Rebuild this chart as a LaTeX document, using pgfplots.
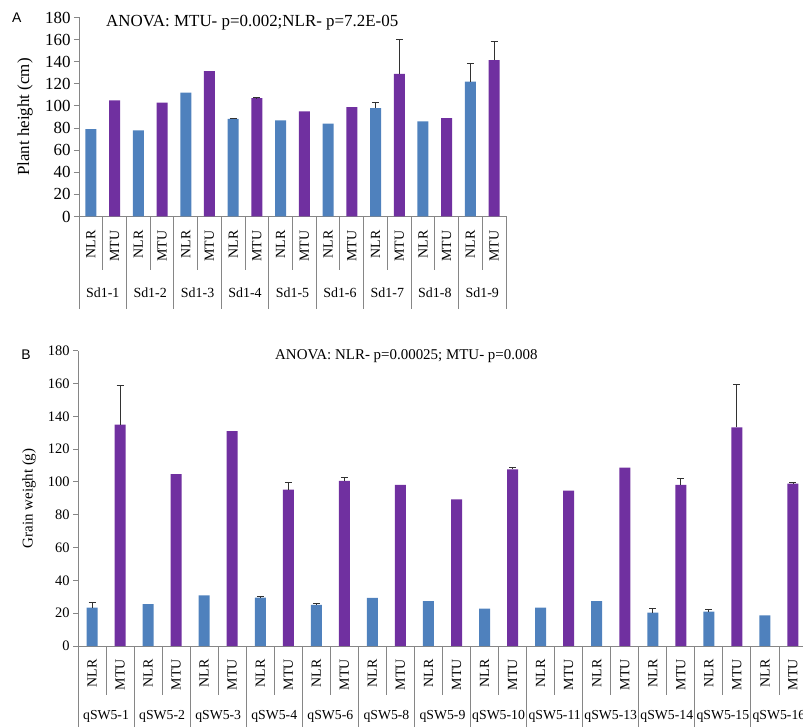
\documentclass[border=0pt]{standalone}
\usepackage{fontspec}
\setmainfont{Liberation Serif}
\newfontfamily\panelfont{Liberation Sans}
\usepackage{pgfplots}
\usepackage{pgfplotstable}
\pgfplotsset{compat=1.18}

\definecolor{nlrblue}{RGB}{79,129,189}
\definecolor{mtupurple}{RGB}{112,48,160}
\definecolor{axisgray}{RGB}{134,134,134}
\definecolor{errgray}{RGB}{50,50,50}

% Panel A: plant height (cm); x = slot index, e = upper error
\pgfplotstableread{
x y e
0 79 0
2 78 0
4 112 0
6 88.3 0.5
8 87 0
10 84 0
12 98 5
14 86 0
16 122 16
}\heightNLR
\pgfplotstableread{
x y e
1 105 0
3 103 0
5 131.5 0
7 107 0.5
9 95 0
11 99 0
13 129 31
15 89 0
17 141.5 17
}\heightMTU

% Panel B: grain weight (g)
\pgfplotstableread{
x y e
0 23.4 3.3
2 25.6 0
4 30.9 0
6 29.5 0.4
8 25 1
10 29.3 0
12 27.4 0
14 22.8 0
16 23.4 0
18 27.4 0
20 20.3 2.4
22 20.9 1.2
24 18.7 0
}\weightNLR
\pgfplotstableread{
x y e
1 134.9 24
3 104.7 0
5 130.9 0
7 95.3 4.5
9 100.6 2.2
11 98.2 0
13 89.4 0
15 107.7 1
17 94.7 0
19 108.8 0
21 98.2 4
23 133.3 26.3
25 99 0.8
}\weightMTU

\tikzset{sepline/.style={draw=axisgray, line width=0.9bp}}

\pgfplotsset{
  barpanel/.style={
    scale only axis, clip=false,
    ymin=0, ymax=180, ytick={0,20,...,180},
    axis x line=bottom, axis y line=left,
    axis line style={-, draw=axisgray, line width=0.9bp},
    tick align=outside, major tick length=5bp,
    ytick style={draw=axisgray, line width=0.9bp},
    xtick style={draw=none},
    /pgf/number format/assume math mode=true,
    xticklabel style={rotate=90, anchor=east, inner sep=0pt,
      font=\fontsize{14}{14}\selectfont},
    ylabel style={at={(axis description cs:0,0.5)}, anchor=center},
  },
  bars/.style={ybar, bar width=11bp, bar shift=0pt, draw=none, fill=#1},
  errs/.style={ybar, bar width=11bp, bar shift=0pt, draw=none, fill=none,
    forget plot,
    restrict expr to domain={\thisrow{e}}{0.01:1000},
    error bars/.cd, y dir=plus, y explicit,
    error bar style={draw=errgray, line width=0.9bp},
    error mark options={rotate=90, mark size=3.5bp, draw=errgray, line width=1.1bp}},
}

\begin{document}
\begin{tikzpicture}

% ---------------- Panel A ----------------
% (label shifts below act in the rotated frame of the labels)
\begin{axis}[barpanel,
  at={(79bp,510.5bp)}, anchor=south west,
  width=427bp, height=199bp,
  xmin=-0.5, xmax=17.5,
  xtick={0,...,17},
  xticklabels={NLR,MTU,NLR,MTU,NLR,MTU,NLR,MTU,NLR,MTU,NLR,MTU,NLR,MTU,NLR,MTU,NLR,MTU},
  xticklabel style={xshift=-9bp},
  yticklabel style={font=\fontsize{17}{17}\selectfont},
  ylabel={Plant height (cm)},
  ylabel style={font=\fontsize{17}{17}\selectfont, yshift=54bp},
]
\addplot[bars=nlrblue] table[x=x, y=y] {\heightNLR};
\addplot[bars=mtupurple] table[x=x, y=y] {\heightMTU};
\addplot[errs] table[x=x, y=y, y error=e] {\heightNLR};
\addplot[errs] table[x=x, y=y, y error=e] {\heightMTU};
\pgfplotsinvokeforeach{0,...,8}{
  \draw[sepline] (axis cs:{2*#1-0.5},0) -- ++(0bp,-93bp);
  \draw[sepline] (axis cs:{2*#1+0.5},0) -- ++(0bp,-54bp);
}
\draw[sepline] (axis cs:17.5,0) -- ++(0bp,-93bp);
\begin{scope}[every node/.style={font=\fontsize{14}{14}\selectfont}]
\node at (axis cs:0.5,0) [yshift=-76.5bp] {Sd1-1};
\node at (axis cs:2.5,0) [yshift=-76.5bp] {Sd1-2};
\node at (axis cs:4.5,0) [yshift=-76.5bp] {Sd1-3};
\node at (axis cs:6.5,0) [yshift=-76.5bp] {Sd1-4};
\node at (axis cs:8.5,0) [yshift=-76.5bp] {Sd1-5};
\node at (axis cs:10.5,0) [yshift=-76.5bp] {Sd1-6};
\node at (axis cs:12.5,0) [yshift=-76.5bp] {Sd1-7};
\node at (axis cs:14.5,0) [yshift=-76.5bp] {Sd1-8};
\node at (axis cs:16.5,0) [yshift=-76.5bp] {Sd1-9};
\end{scope}
\end{axis}

\node[anchor=west, inner sep=0pt, font=\fontsize{17}{17}\selectfont]
  at (106bp,704bp) {ANOVA: MTU- p=0.002;NLR- p=7.2E-05};
\node[font=\panelfont\fontsize{14}{14}\selectfont] at (16.7bp,709.3bp) {A};

% ---------------- Panel B ----------------
\begin{axis}[barpanel,
  at={(78bp,81bp)}, anchor=south west,
  width=729bp, height=295.3bp,
  xmin=-0.5, xmax=25.5,
  xtick={0,...,25},
  xticklabels={NLR,MTU,NLR,MTU,NLR,MTU,NLR,MTU,NLR,MTU,NLR,MTU,NLR,MTU,NLR,MTU,NLR,MTU,NLR,MTU,NLR,MTU,NLR,MTU,NLR,MTU},
  xticklabel style={xshift=-8bp},
  yticklabel style={font=\fontsize{14.5}{14.5}\selectfont},
  ylabel={Grain weight (g)},
  ylabel style={font=\fontsize{15}{15}\selectfont, yshift=49bp},
]
\addplot[bars=nlrblue] table[x=x, y=y] {\weightNLR};
\addplot[bars=mtupurple] table[x=x, y=y] {\weightMTU};
\addplot[errs] table[x=x, y=y, y error=e] {\weightNLR};
\addplot[errs] table[x=x, y=y, y error=e] {\weightMTU};
\pgfplotsinvokeforeach{0,...,12}{
  \draw[sepline] (axis cs:{2*#1-0.5},0) -- ++(0bp,-95bp);
  \draw[sepline] (axis cs:{2*#1+0.5},0) -- ++(0bp,-49bp);
}
\draw[sepline] (axis cs:25.5,0) -- ++(0bp,-95bp);
\begin{scope}[every node/.style={font=\fontsize{13.8}{13.8}\selectfont}]
\node at (axis cs:0.5,0) [yshift=-70bp] {qSW5-1};
\node at (axis cs:2.5,0) [yshift=-70bp] {qSW5-2};
\node at (axis cs:4.5,0) [yshift=-70bp] {qSW5-3};
\node at (axis cs:6.5,0) [yshift=-70bp] {qSW5-4};
\node at (axis cs:8.5,0) [yshift=-70bp] {qSW5-6};
\node at (axis cs:10.5,0) [yshift=-70bp] {qSW5-8};
\node at (axis cs:12.5,0) [yshift=-70bp] {qSW5-9};
\node at (axis cs:14.5,0) [yshift=-70bp] {qSW5-10};
\node at (axis cs:16.5,0) [yshift=-70bp] {qSW5-11};
\node at (axis cs:18.5,0) [yshift=-70bp] {qSW5-13};
\node at (axis cs:20.5,0) [yshift=-70bp] {qSW5-14};
\node at (axis cs:22.5,0) [yshift=-70bp] {qSW5-15};
\node at (axis cs:24.5,0) [yshift=-70bp] {qSW5-16};
\end{scope}
\end{axis}

\node[anchor=west, inner sep=0pt, font=\fontsize{15}{15}\selectfont]
  at (275bp,371bp) {ANOVA: NLR- p=0.00025; MTU- p=0.008};
\node[font=\panelfont\fontsize{14}{14}\selectfont] at (26bp,372bp) {B};

\pgfresetboundingbox
\useasboundingbox (0bp,0bp) rectangle (803bp,727bp);
\end{tikzpicture}
\end{document}
